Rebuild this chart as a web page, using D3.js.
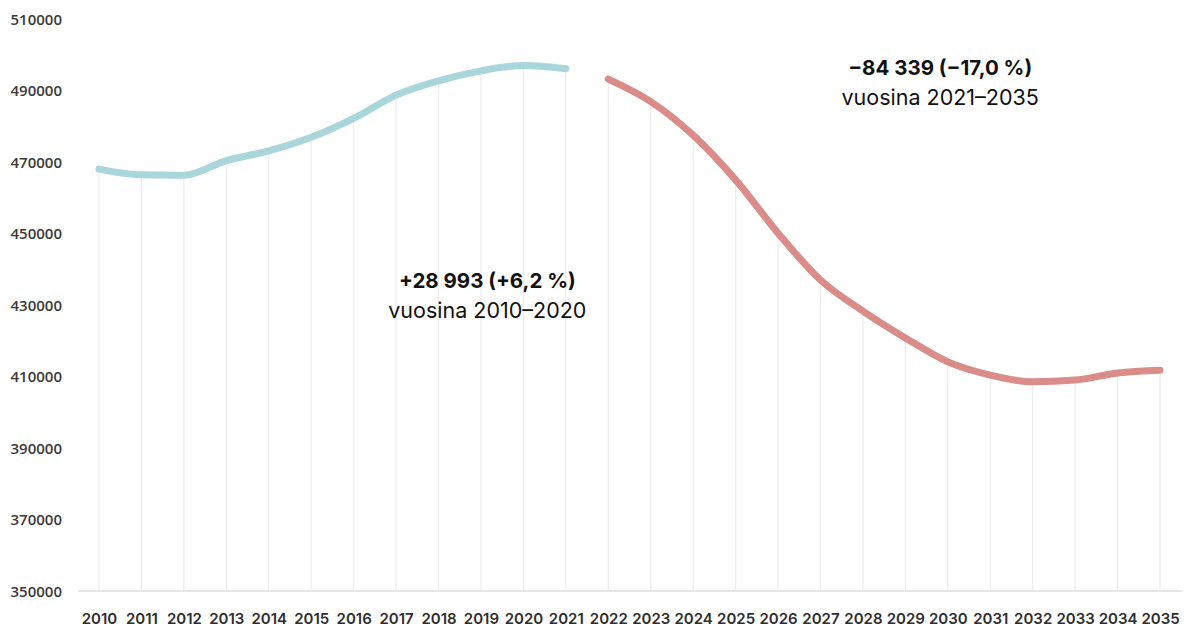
<!DOCTYPE html>
<html>
<head>
<meta charset="utf-8">
<script src="https://cdn.jsdelivr.net/npm/d3@7"></script>
<style>
  html, body { margin: 0; padding: 0; background: #fff; }
  svg { display: block; }
  .ytick text { font-family: "Open Sans", sans-serif; font-weight: 600; font-size: 15px; fill: #3a3a3a; }
  .xtick text { font-family: Inter, sans-serif; font-weight: 600; font-size: 15px; fill: #2e2e2e; }
  .ann-bold { font-family: Inter, "Noto Sans", sans-serif; font-weight: 700; font-size: 20.5px; fill: #111; }
  .ann-reg { font-family: Inter, "Noto Sans", sans-serif; font-weight: 400; font-size: 21.5px; fill: #111; }
</style>
</head>
<body>
<svg id="chart" width="1189" height="628"></svg>
<script>
// Population, observed years
const pastYears = [2010, 2011, 2012, 2013, 2014, 2015, 2016, 2017, 2018, 2019, 2020, 2021];
const pastValues = [468000, 466400, 466300, 470400, 473100, 476900, 482200, 488700, 492700, 495500, 496993, 496100];

// Population, projected years
const projYears = [2022, 2023, 2024, 2025, 2026, 2027, 2028, 2029, 2030, 2031, 2032, 2033, 2034, 2035];
const projValues = [493200, 486900, 477500, 465000, 450100, 437000, 428300, 420800, 414100, 410400, 408500, 409000, 411000, 411761];

const yTicks = [350000, 370000, 390000, 410000, 430000, 450000, 470000, 490000, 510000];
const allYears = pastYears.concat(projYears);

const annotations = [
  { bold: "+28 993 (+6,2 %)", text: "vuosina 2010–2020", year: 2019.15, value: 434800 },
  { bold: "−84 339 (−17,0 %)", text: "vuosina 2021–2035", year: 2029.82, value: 494300 }
];

const svg = d3.select("#chart");

const x = d3.scaleLinear().domain([2010, 2035]).range([99, 1160]);
const y = d3.scaleLinear().domain([350000, 510000]).range([591, 19]);

// Drop lines from each point down to the baseline
const points = pastYears.map((yr, i) => ({ yr, v: pastValues[i] }))
  .concat(projYears.map((yr, i) => ({ yr, v: projValues[i] })));

svg.append("g").selectAll("line")
  .data(points)
  .join("line")
  .attr("x1", d => x(d.yr)).attr("x2", d => x(d.yr))
  .attr("y1", d => y(d.v)).attr("y2", y(350000))
  .attr("stroke", "#ececec")
  .attr("stroke-width", 1.2);

// Baseline
svg.append("line")
  .attr("x1", 78).attr("x2", 1182)
  .attr("y1", y(350000)).attr("y2", y(350000))
  .attr("stroke", "#dedede")
  .attr("stroke-width", 1.5);

// Y axis labels
const yAxis = d3.axisLeft(y).tickValues(yTicks).tickSize(0).tickPadding(0).tickFormat(d3.format("d"));
const yg = svg.append("g").attr("class", "ytick").attr("transform", "translate(62,0)").call(yAxis);
yg.select(".domain").remove();
yg.selectAll("text").attr("dy", "0.35em");

// X axis labels
const xAxis = d3.axisBottom(x).tickValues(allYears).tickSize(0).tickPadding(0).tickFormat(d3.format("d"));
const xg = svg.append("g").attr("class", "xtick").attr("transform", "translate(0,610)").call(xAxis);
xg.select(".domain").remove();
xg.selectAll("text").attr("dy", "0.9em");

// Series lines
const line = d3.line().x(d => x(d.yr)).y(d => y(d.v)).curve(d3.curveMonotoneX);

svg.append("path")
  .datum(pastYears.map((yr, i) => ({ yr, v: pastValues[i] })))
  .attr("d", line)
  .attr("fill", "none")
  .attr("stroke", "#a9d6da")
  .attr("stroke-width", 7)
  .attr("stroke-linecap", "round")
  .attr("stroke-linejoin", "round");

svg.append("path")
  .datum(projYears.map((yr, i) => ({ yr, v: projValues[i] })))
  .attr("d", line)
  .attr("fill", "none")
  .attr("stroke", "#da8c88")
  .attr("stroke-width", 7)
  .attr("stroke-linecap", "round")
  .attr("stroke-linejoin", "round");

// Change annotations
const ann = svg.append("g").selectAll("g")
  .data(annotations)
  .join("g")
  .attr("transform", d => `translate(${x(d.year)},${y(d.value)})`);

ann.append("text").attr("class", "ann-bold").attr("text-anchor", "middle").attr("y", 0).text(d => d.bold);
ann.append("text").attr("class", "ann-reg").attr("text-anchor", "middle").attr("y", 30).text(d => d.text);
</script>
</body>
</html>
